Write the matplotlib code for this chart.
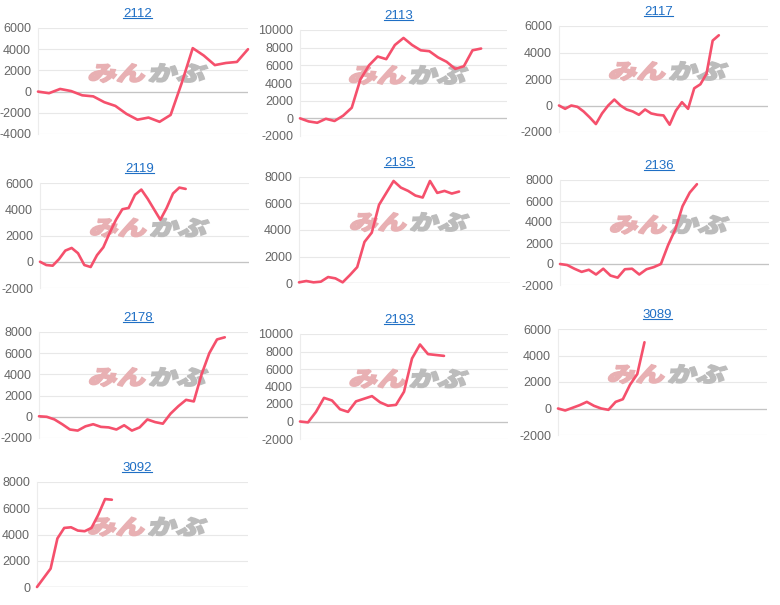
import matplotlib
matplotlib.use('Agg')
import matplotlib.pyplot as plt
from matplotlib.lines import Line2D
from matplotlib.patches import PathPatch
from matplotlib.textpath import TextPath
from matplotlib.font_manager import FontProperties
from matplotlib.transforms import IdentityTransform, Affine2D

plt.rcParams['font.family'] = ['Liberation Sans', 'DejaVu Sans']
plt.rcParams['axes.unicode_minus'] = False

# chart codes, values drawn and number of x slots per chart
codes = ['2112', '2113', '2117', '2119', '2135', '2136', '2178', '2193', '3089', '3092']

vals_2112 = [0, -150, 250, 50, -350, -450, -1000, -1350, -2100, -2650, -2450, -2850,
             -2200, 800, 4100, 3400, 2500, 2700, 2800, 4000]
vals_2113 = [0, -350, -500, -50, -300, 300, 1200, 4400, 6000, 7000, 6700, 8300, 9100,
             8300, 7700, 7600, 6900, 6400, 5600, 5900, 7700, 7900]
vals_2117 = [0, -250, 0, -100, -450, -900, -1400, -600, 0, 450, 0, -300, -450, -700,
             -300, -600, -700, -750, -1450, -400, 250, -250, 1300, 1600, 2400, 4900, 5300]
vals_2119 = [0, -250, -300, 200, 850, 1050, 650, -250, -400, 500, 1100, 2200, 3200, 4000,
             4100, 5100, 5500, 4800, 4000, 3200, 4100, 5200, 5650, 5550]
vals_2135 = [50, 150, 50, 100, 450, 350, 50, 600, 1200, 3100, 3800, 5900, 6800, 7700,
             7200, 6950, 6600, 6450, 7700, 6800, 6950, 6750, 6900]
vals_2136 = [0, -100, -450, -750, -550, -1000, -450, -1100, -1300, -500, -450, -1000,
             -500, -300, 0, 1800, 3300, 5500, 6800, 7600]
vals_2178 = [50, 0, -250, -700, -1200, -1300, -900, -700, -950, -1000, -1200, -800,
             -1300, -1000, -250, -500, -650, 300, 1000, 1600, 1450, 4000, 6000, 7300, 7500]
vals_2193 = [0, -100, 1100, 2700, 2400, 1400, 1100, 2300, 2600, 2900, 2200, 1800, 1900,
             3400, 7200, 8800, 7700, 7600, 7500]
vals_3089 = [0, -150, 50, 250, 500, 200, 0, -100, 500, 700, 1800, 2600, 5000]
vals_3092 = [0, 700, 1400, 3700, 4500, 4550, 4300, 4250, 4500, 5500, 6700, 6650]

npts = [20, 25, 35, 34, 30, 30, 28, 27, 30, 32]
ylims = [(-4000, 6000), (-2000, 10000), (-2000, 6000), (-2000, 6000), (0, 8000),
         (-2000, 8000), (-2000, 8000), (-2000, 10000), (-2000, 6000), (0, 8000)]

series = [vals_2112, vals_2113, vals_2117, vals_2119, vals_2135,
          vals_2136, vals_2178, vals_2193, vals_3089, vals_3092]

# plot boxes in pixels: left, top, right, bottom
boxes = [(38, 28, 248, 134), (300, 30, 507, 136), (559, 26, 768, 132),
         (40, 183, 249, 288), (299, 177, 510, 283), (560, 180, 769, 285),
         (39, 332, 248, 438), (300, 334, 508, 439), (558, 329, 767, 435),
         (37, 482, 248, 587)]

W, H = 780, 605
fig = plt.figure(figsize=(W / 100, H / 100), dpi=100)

# watermark glyph outlines (pixel units)
fp = FontProperties(family='Noto Sans CJK JP', weight='heavy')
wm1 = TextPath((0, 0), 'みん', size=22, prop=fp)
wm2 = TextPath((0, 0), 'かぶ', size=22, prop=fp)
e1, e2 = wm1.get_extents(), wm2.get_extents()
gap = 4
total_w = e1.width + gap + e2.width
mid_y = (min(e1.y0, e2.y0) + max(e1.y1, e2.y1)) / 2

titles = []
for code, vals, n, (y0, y1), (l, t, r, b) in zip(codes, series, npts, ylims, boxes):
    ax = fig.add_axes([l / W, 1 - b / H, (r - l) / W, (b - t) / H])
    ax.plot(range(len(vals)), vals, color='#f5506c', lw=1.9, zorder=4,
            solid_joinstyle='round', solid_capstyle='round', clip_on=False)
    ax.set_xlim(0, n - 1)
    ax.set_ylim(y0, y1)
    ax.set_yticks(range(y0, y1 + 1, 2000))
    ax.set_xticks([])
    ax.yaxis.grid(True, color='#e8e8e8', lw=0.8)
    ax.set_axisbelow(True)
    ax.axhline(0, color='#c4c4c4', lw=0.9, zorder=1)
    for s in ['top', 'right', 'bottom']:
        ax.spines[s].set_visible(False)
    ax.spines['left'].set_color('#ececec')
    ax.spines['left'].set_linewidth(0.8)
    ax.tick_params(length=0, pad=5, labelsize=9, labelcolor='#666666')

    # watermark, stretched and slanted
    cx, cy = ax.transAxes.transform((0.525, 0.575))
    base = Affine2D().translate(-total_w / 2 - e1.x0, -mid_y).scale(1.3, 0.95).skew_deg(14, 0).translate(cx, cy)
    ax.add_patch(PathPatch(wm1, transform=base, fc='#e8b0b3', ec='#e8b0b3', lw=1.2, zorder=2))
    shift = Affine2D().translate(e1.x1 - e2.x0 + gap, 0) + base
    ax.add_patch(PathPatch(wm2, transform=shift, fc='#bcbcbc', ec='#bcbcbc', lw=1.2, zorder=2))

    tt = ax.annotate(code, xy=(0.475, 1), xycoords='axes fraction', xytext=(0, 10),
                     textcoords='offset points', ha='center', va='center',
                     fontsize=9.5, color='#1f6fc5')
    titles.append(tt)

fig.canvas.draw()
for tt in titles:
    bb = tt.get_window_extent()
    y = bb.y0 + 2
    fig.add_artist(Line2D([bb.x0, bb.x1], [y, y], transform=IdentityTransform(),
                          color='#1f6fc5', lw=0.8))

fig.savefig('out.png', dpi=100, facecolor='white')
